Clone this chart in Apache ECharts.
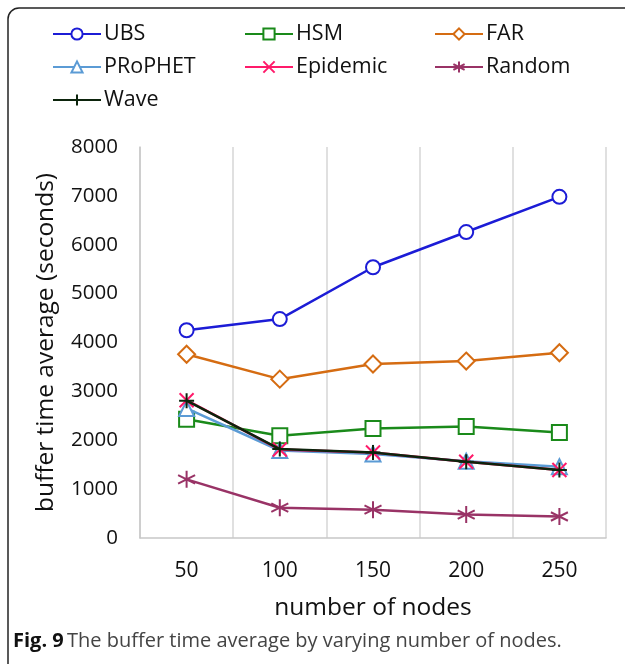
<!DOCTYPE html>
<html>
<head>
<meta charset="utf-8">
<script src="https://cdn.jsdelivr.net/npm/echarts@6/dist/echarts.min.js"></script>
<style>
html,body{margin:0;padding:0;background:#fff;}
#chart{width:625px;height:664px;}
</style>
</head>
<body>
<div id="chart"></div>
<script>
var categories = ['50', '100', '150', '200', '250'];
var ubs = [4250, 4480, 5540, 6260, 6980];
var hsm = [2430, 2090, 2240, 2280, 2160];
var far = [3760, 3250, 3560, 3620, 3790];
var prophet = [2650, 1790, 1720, 1570, 1460];
var epidemic = [2820, 1810, 1750, 1560, 1390];
var random = [1200, 620, 580, 480, 440];
var wave = [2810, 1820, 1750, 1560, 1390];
var yTicks = [0, 1000, 2000, 3000, 4000, 5000, 6000, 7000, 8000];

var FONT = '"Open Sans", sans-serif';
var chart = echarts.init(document.getElementById('chart'));

var P_X = 'path://M0,0L10,10M10,0L0,10';
var P_AST = 'path://M5,0L5,10M0.7,2.5L9.3,7.5M9.3,2.5L0.7,7.5';
var P_PLUS = 'path://M5,0L5,10M0,5L10,5';

function mk(name, data, color, symbol, size, filledPath, z) {
  var s = {
    name: name, type: 'line', data: data, z: z,
    symbol: symbol, symbolSize: size,
    showAllSymbol: true,
    lineStyle: { color: color, width: 2.5 },
    itemStyle: { color: color, borderColor: color, borderWidth: 1.6 },
    emphasis: { disabled: true },
    animation: false
  };
  if (filledPath) {
    s.itemStyle = { color: 'rgba(0,0,0,0)', borderColor: color, borderWidth: 2 };
  }
  return s;
}

var legendBase = {
  orient: 'vertical', itemWidth: 48, itemHeight: 14, itemGap: 11,
  textStyle: { fontFamily: FONT, fontSize: 21.5, color: '#111', padding: [0, 0, 0, -2] },
  selectedMode: false
};

var option = {
  backgroundColor: '#fff',
  animation: false,
  legend: [
    Object.assign({}, legendBase, { left: 47, top: 18, data: ['UBS', 'PRoPHET', 'Wave'] }),
    Object.assign({}, legendBase, { left: 239, top: 18, data: ['HSM', 'Epidemic'] }),
    Object.assign({}, legendBase, { left: 429, top: 18, data: ['FAR', 'Random'] })
  ],
  grid: { left: 140, right: 19, top: 147, bottom: 126 },
  xAxis: {
    type: 'category', data: categories, boundaryGap: true,
    name: 'number of nodes', nameLocation: 'middle', nameGap: 58,
    nameTextStyle: { fontFamily: FONT, fontSize: 24.5, color: '#111' },
    axisLine: { show: true, lineStyle: { color: '#c8c8c8', width: 1.5 } },
    axisTick: { show: false },
    axisLabel: { fontFamily: FONT, fontSize: 21, color: '#111', margin: 23 },
    splitLine: { show: true, lineStyle: { color: '#d6d6d6', width: 1.5 } }
  },
  yAxis: {
    type: 'value', min: yTicks[0], max: yTicks[yTicks.length - 1], interval: 1000,
    name: 'buffer time average (seconds)', nameLocation: 'middle', nameGap: 81,
    nameTextStyle: { fontFamily: FONT, fontSize: 24.5, color: '#111' },
    axisLine: { show: true, lineStyle: { color: '#c8c8c8', width: 1.5 } },
    axisTick: { show: false },
    axisLabel: { fontFamily: FONT, fontSize: 20.5, color: '#111', margin: 22,
      formatter: function (v) { return String(v); } },
    splitLine: { show: false }
  },
  series: [
    mk('UBS', ubs, '#1c1cd6', 'emptyCircle', 14, false, 2),
    mk('HSM', hsm, '#1a8a1a', 'emptyRect', 15, false, 2),
    mk('FAR', far, '#d56c12', 'emptyDiamond', 17, false, 2),
    mk('PRoPHET', prophet, '#5b9bd5', 'emptyTriangle', 15, false, 3),
    mk('Epidemic', epidemic, '#ff1a6a', P_X, 14, true, 4),
    mk('Random', random, '#993366', P_AST, 17, true, 2),
    mk('Wave', wave, '#0c240c', P_PLUS, 15, true, 5)
  ],
  graphic: [
    {
      type: 'line', silent: true,
      shape: { x1: 19, y1: 8, x2: 640, y2: 8 },
      style: { stroke: '#222', lineWidth: 1.5 }
    },
    {
      type: 'line', silent: true,
      shape: { x1: 8, y1: 19, x2: 8, y2: 680 },
      style: { stroke: '#222', lineWidth: 1.5 }
    },
    {
      type: 'arc', silent: true,
      shape: { cx: 19, cy: 19, r: 11, startAngle: Math.PI, endAngle: Math.PI * 1.5 },
      style: { fill: 'none', stroke: '#222', lineWidth: 1.5 }
    },
    {
      type: 'text', silent: true, x: 13, y: 631,
      style: {
        text: '{b|Fig. 9} {r|The buffer time average by varying number of nodes.}',
        rich: {
          b: { fontFamily: FONT, fontSize: 20, fontWeight: 'bold', fill: '#111' },
          r: { fontFamily: FONT, fontSize: 20, fill: '#444' }
        }
      }
    }
  ]
};
chart.setOption(option);
</script>
</body>
</html>
